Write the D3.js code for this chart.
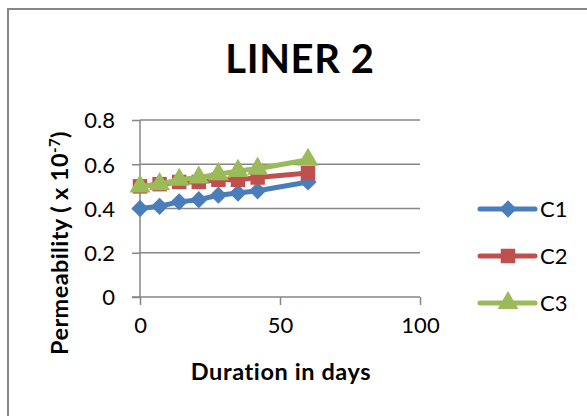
<!DOCTYPE html>
<html>
<head>
<meta charset="utf-8">
<script src="https://cdn.jsdelivr.net/npm/d3@7"></script>
<style>
  html, body { margin: 0; padding: 0; background: #fff; }
  svg { display: block; font-family: Lato, "Open Sans", sans-serif; }
</style>
</head>
<body>
<svg id="chart" width="587" height="416"></svg>
<script>
// Permeability measurements for liner 2, three cells over time
const days = [0, 7, 14, 21, 28, 35, 42, 60];
const c1 = [0.40, 0.41, 0.43, 0.44, 0.46, 0.47, 0.48, 0.52];
const c2 = [0.50, 0.51, 0.52, 0.52, 0.53, 0.53, 0.54, 0.56];
const c3 = [0.50, 0.51, 0.53, 0.54, 0.555, 0.57, 0.58, 0.62];
const seriesNames = ["C1", "C2", "C3"];
const xTicks = [0, 50, 100];
const yTicks = [0, 0.2, 0.4, 0.6, 0.8];

const series = [
  { name: seriesNames[0], values: c1, color: "#4a7ebb", symbol: d3.symbolDiamond2 },
  { name: seriesNames[1], values: c2, color: "#c0504d", symbol: d3.symbolSquare },
  { name: seriesNames[2], values: c3, color: "#9bbb59", symbol: d3.symbolTriangle }
];

const svg = d3.select("#chart");
const W = 587, H = 416;
const plot = { left: 140, right: 420, top: 120, bottom: 297 };

// outer chart frame
svg.append("rect")
  .attr("x", 8).attr("y", 9)
  .attr("width", W + 10).attr("height", H + 10)
  .attr("fill", "none")
  .attr("stroke", "#878787")
  .attr("stroke-width", 2);

const x = d3.scaleLinear().domain([0, 100]).range([plot.left, plot.right]);
const y = d3.scaleLinear().domain([0, 0.8]).range([plot.bottom, plot.top]);

// horizontal gridlines
svg.append("g")
  .selectAll("line")
  .data(yTicks.filter(d => d > 0))
  .join("line")
  .attr("x1", plot.left).attr("x2", plot.right)
  .attr("y1", d => y(d)).attr("y2", d => y(d))
  .attr("stroke", "#868686")
  .attr("stroke-width", 1.5);

// y axis
const yAxis = svg.append("g")
  .attr("transform", `translate(${plot.left},0)`)
  .call(d3.axisLeft(y).tickValues(yTicks).tickSize(8).tickPadding(17)
    .tickFormat(d => d === 0 ? "0" : d3.format(".1f")(d)));
yAxis.select(".domain").attr("stroke", "#868686").attr("stroke-width", 1.5)
  .attr("d", `M0,${plot.top}V${plot.bottom}`);
yAxis.selectAll(".tick line").attr("stroke", "#868686").attr("stroke-width", 1.5);
yAxis.selectAll(".tick text")
  .attr("font-family", "Lato, sans-serif")
  .attr("font-size", 22)
  .attr("fill", "#000")
  .attr("dy", "0.36em");

// x axis
const xAxis = svg.append("g")
  .attr("transform", `translate(0,${plot.bottom})`)
  .call(d3.axisBottom(x).tickValues(xTicks).tickSize(8).tickPadding(12));
xAxis.select(".domain").attr("stroke", "#868686").attr("stroke-width", 1.5)
  .attr("d", `M${plot.left - 8},0H${plot.right}`);
xAxis.selectAll(".tick line").attr("stroke", "#868686").attr("stroke-width", 1.5);
xAxis.selectAll(".tick text")
  .attr("font-family", "Lato, sans-serif")
  .attr("font-size", 22)
  .attr("fill", "#000");

// series lines and markers
const line = d3.line().x((d, i) => x(days[i])).y(d => y(d));
series.forEach(s => {
  svg.append("path")
    .datum(s.values)
    .attr("d", line)
    .attr("fill", "none")
    .attr("stroke", s.color)
    .attr("stroke-width", 5)
    .attr("stroke-linejoin", "round")
    .attr("stroke-linecap", "round");
  svg.append("g")
    .selectAll("path")
    .data(s.values)
    .join("path")
    .attr("transform", (d, i) => `translate(${x(days[i])},${y(d)})`)
    .attr("d", d3.symbol(s.symbol, s.symbol === d3.symbolSquare ? 210 : 190))
    .attr("fill", s.color);
});

// title
svg.append("text")
  .attr("x", 300).attr("y", 73)
  .attr("text-anchor", "middle")
  .attr("font-family", "Lato, sans-serif")
  .attr("font-weight", "bold")
  .attr("font-size", 40)
  .attr("letter-spacing", 0.6)
  .text("LINER 2");

// x axis title
svg.append("text")
  .attr("x", (plot.left + plot.right) / 2 + 1).attr("y", 380)
  .attr("text-anchor", "middle")
  .attr("font-family", "Lato, sans-serif")
  .attr("font-weight", "bold")
  .attr("font-size", 23.5)
  .attr("letter-spacing", 0.6)
  .text("Duration in days");

// y axis title
const yt = svg.append("text")
  .attr("transform", "translate(68,243) rotate(-90)")
  .attr("text-anchor", "middle")
  .attr("font-family", "Lato, sans-serif")
  .attr("font-weight", "bold")
  .attr("font-size", 23.5)
  .attr("letter-spacing", 0.4);
yt.append("tspan").text("Permeability ( x 10");
yt.append("tspan").attr("dy", -8).attr("font-size", 15).text("-7");
yt.append("tspan").attr("dy", 8).text(")");

// legend
const legendY = [209, 256, 303];
series.forEach((s, i) => {
  const g = svg.append("g").attr("transform", `translate(0,${legendY[i]})`);
  g.append("line")
    .attr("x1", 480).attr("x2", 535)
    .attr("stroke", s.color).attr("stroke-width", 5)
    .attr("stroke-linecap", "round");
  g.append("path")
    .attr("transform", "translate(508,0)")
    .attr("d", d3.symbol(s.symbol, s.symbol === d3.symbolSquare ? 210 : 190))
    .attr("fill", s.color);
  g.append("text")
    .attr("x", 540).attr("y", 8)
    .attr("font-family", "Lato, sans-serif")
    .attr("font-size", 22)
    .text(s.name);
});
</script>
</body>
</html>
